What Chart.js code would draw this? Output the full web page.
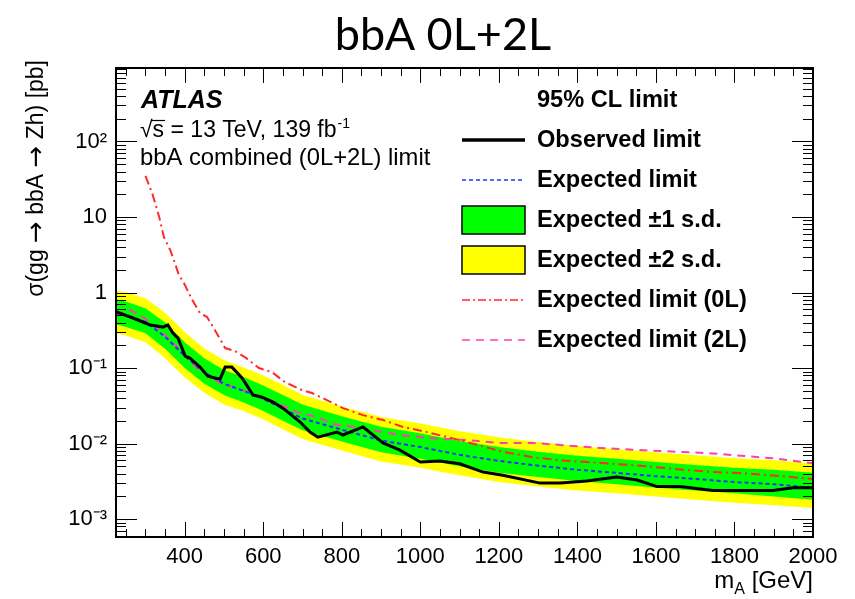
<!DOCTYPE html>
<html>
<head>
<meta charset="utf-8">
<title>bbA 0L+2L</title>
<script src="https://cdn.jsdelivr.net/npm/chart.js@4.4.1/dist/chart.umd.min.js"></script>
<style>
  html, body { margin: 0; padding: 0; background: #fff; }
  canvas { display: block; }
</style>
</head>
<body>
<canvas id="limitChart" width="855" height="599"></canvas>
<script>
// ===== Dados =====
// Limite observado
const massObs = [225, 268, 312, 345, 357, 370, 383, 393, 401, 413, 439, 459, 490, 503, 520, 546, 574, 597, 625, 650, 694, 719, 739, 788, 803, 854, 905, 948, 1000, 1050, 1100, 1160, 1210, 1305, 1356, 1424, 1500, 1552, 1603, 1661, 1745, 1814, 1898, 1949, 2000];
const obsLimit = [0.56, 0.46, 0.372, 0.349, 0.372, 0.291, 0.249, 0.184, 0.144, 0.136, 0.103, 0.078, 0.0714, 0.103, 0.103, 0.0738, 0.0439, 0.0413, 0.0355, 0.0295, 0.0193, 0.0142, 0.0122, 0.0142, 0.0130, 0.0166, 0.0102, 0.0082, 0.0057, 0.0059, 0.0054, 0.0042, 0.0038, 0.0030, 0.0030, 0.0032, 0.0036, 0.0033, 0.0027, 0.0027, 0.0024, 0.0024, 0.0024, 0.0026, 0.0026];

// Limite esperado e bandas de ±1 / ±2 s.d.
const massExp = [225, 250, 300, 350, 400, 450, 500, 550, 600, 650, 700, 800, 900, 1000, 1100, 1200, 1300, 1400, 1500, 1600, 1700, 1800, 1900, 2000];
const expLimit = [0.54, 0.50, 0.41, 0.26, 0.145, 0.088, 0.062, 0.050, 0.039, 0.029, 0.0215, 0.0153, 0.011, 0.0090, 0.0071, 0.0059, 0.0051, 0.0045, 0.0041, 0.0037, 0.0034, 0.0031, 0.0029, 0.0026];
const exp1Up = [0.80, 0.76, 0.62, 0.40, 0.22, 0.135, 0.094, 0.076, 0.059, 0.044, 0.033, 0.023, 0.0167, 0.0137, 0.0108, 0.0090, 0.0078, 0.0069, 0.0063, 0.0057, 0.0052, 0.0048, 0.0045, 0.0041];
const exp1Down = [0.38, 0.35, 0.29, 0.18, 0.10, 0.062, 0.044, 0.035, 0.027, 0.020, 0.015, 0.0107, 0.0077, 0.0063, 0.0050, 0.0041, 0.0036, 0.0032, 0.0029, 0.0026, 0.0024, 0.0022, 0.0020, 0.0018];
const exp2Up = [1.05, 1.02, 0.84, 0.54, 0.30, 0.18, 0.128, 0.102, 0.080, 0.060, 0.044, 0.031, 0.0225, 0.0185, 0.0146, 0.0121, 0.0105, 0.0093, 0.0085, 0.0077, 0.0070, 0.0064, 0.0060, 0.0055];
const exp2Down = [0.29, 0.27, 0.22, 0.135, 0.075, 0.047, 0.033, 0.027, 0.021, 0.0155, 0.0115, 0.0081, 0.0058, 0.0048, 0.0038, 0.0031, 0.0027, 0.0024, 0.0022, 0.0020, 0.0018, 0.00165, 0.00153, 0.0014];

// Limite esperado só do canal 0L
const mass0L = [300, 317, 335, 347, 363, 375, 385, 398, 419, 439, 457, 477, 503, 528, 553, 589, 622, 655, 699, 724, 762, 803, 854, 905, 956, 1017, 1101, 1210, 1287, 1356, 1450, 1559, 1669, 1750, 1840, 1920, 2000];
const exp0L = [35, 20.8, 10.0, 5.4, 3.66, 2.46, 1.71, 1.34, 0.80, 0.535, 0.473, 0.318, 0.184, 0.168, 0.140, 0.100, 0.0885, 0.0653, 0.0511, 0.0467, 0.0377, 0.0295, 0.0238, 0.0205, 0.0166, 0.0142, 0.0111, 0.0078, 0.0066, 0.0060, 0.0056, 0.0051, 0.0045, 0.0042, 0.0040, 0.0037, 0.0034];

// Limite esperado só do canal 2L
const mass2L = [225, 261, 294, 337, 380, 431, 490, 548, 617, 686, 737, 780, 820, 905, 948, 1032, 1119, 1203, 1287, 1356, 1450, 1559, 1730, 1898, 2000];
const exp2L = [0.50, 0.587, 0.473, 0.318, 0.190, 0.100, 0.0633, 0.0511, 0.0377, 0.0261, 0.0224, 0.018, 0.017, 0.0142, 0.0130, 0.0118, 0.0111, 0.0102, 0.0102, 0.0096, 0.0088, 0.0082, 0.0075, 0.0064, 0.0055];

// Eixos
const xTicks = [400, 600, 800, 1000, 1200, 1400, 1600, 1800, 2000];
const yTicks = [1e-3, 1e-2, 1e-1, 1, 10, 100];
const yTickLabels = ['10⁻³', '10⁻²', '10⁻¹', '1', '10', '10²'];

const AXIS_FONT = '"Liberation Sans", Arial, sans-serif';
const ARROW_FONT = '"DejaVu Sans", sans-serif';

const toPoints = (xs, ys) => xs.map((x, i) => ({ x: x, y: ys[i] }));

// ===== Moldura estilo ROOT com ticks para dentro =====
const frameTicks = {
  id: 'frameTicks',
  afterDatasetsDraw(chart) {
    const { ctx, chartArea: a, scales: { x, y } } = chart;
    ctx.save();
    ctx.strokeStyle = '#000';
    ctx.lineWidth = 1;
    ctx.beginPath();
    for (let m = 250; m <= 2000; m += 50) {
      const px = Math.round(x.getPixelForValue(m)) + 0.5;
      const len = m % 200 === 0 ? 15 : 8;
      ctx.moveTo(px, a.bottom); ctx.lineTo(px, a.bottom - len);
      ctx.moveTo(px, a.top); ctx.lineTo(px, a.top + len);
    }
    for (let e = -4; e <= 2; e++) {
      for (let k = 1; k <= 9; k++) {
        const v = k * Math.pow(10, e);
        if (v < y.min || v > y.max) continue;
        const py = Math.round(y.getPixelForValue(v)) + 0.5;
        const len = k === 1 ? 21 : 10;
        ctx.moveTo(a.left, py); ctx.lineTo(a.left + len, py);
        ctx.moveTo(a.right, py); ctx.lineTo(a.right - len, py);
      }
    }
    ctx.stroke();
    ctx.lineWidth = 2;
    ctx.strokeRect(a.left, a.top, a.right - a.left, a.bottom - a.top);
    ctx.restore();
  }
};

// Desenha um texto em pedaços com fontes diferentes (para as setas)
function drawRuns(ctx, runs, x, y) {
  let cx = x;
  runs.forEach(([txt, font]) => {
    ctx.font = font;
    ctx.fillText(txt, cx, y);
    cx += ctx.measureText(txt).width;
  });
  return cx - x;
}

// ===== Textos: título, títulos dos eixos, rótulo ATLAS e legenda =====
const annotations = {
  id: 'annotations',
  afterDraw(chart) {
    const { ctx, chartArea: a } = chart;
    ctx.save();
    ctx.fillStyle = '#000';

    // título principal
    ctx.font = '45px Lato, "Noto Sans", sans-serif';
    ctx.textAlign = 'center';
    ctx.textBaseline = 'alphabetic';
    ctx.fillText('bbA 0L+2L', 443, 50);

    // título do eixo y
    const f = '23px ' + AXIS_FONT;
    const fa = '26px ' + ARROW_FONT;
    const yRuns = [['σ(gg ', f], ['→', fa], [' bbA ', f], ['→', fa], [' Zh) [pb]', f]];
    ctx.save();
    ctx.textAlign = 'left';
    ctx.textBaseline = 'middle';
    let wTot = 0;
    yRuns.forEach(([txt, font]) => { ctx.font = font; wTot += ctx.measureText(txt).width; });
    ctx.translate(37, 60);
    ctx.rotate(-Math.PI / 2);
    drawRuns(ctx, yRuns, -wTot, 0);
    ctx.restore();

    // título do eixo x: m_A [GeV]
    ctx.textBaseline = 'alphabetic';
    ctx.textAlign = 'left';
    ctx.font = '24px ' + AXIS_FONT;
    const wM = ctx.measureText('m').width;
    const wRest = ctx.measureText(' [GeV]').width;
    ctx.font = '16px ' + AXIS_FONT;
    const wA = ctx.measureText('A').width;
    const tx = a.right - (wM + wA + wRest);
    ctx.font = '24px ' + AXIS_FONT;
    ctx.fillText('m', tx, 588);
    ctx.font = '16px ' + AXIS_FONT;
    ctx.fillText('A', tx + wM, 594);
    ctx.font = '24px ' + AXIS_FONT;
    ctx.fillText(' [GeV]', tx + wM + wA, 588);

    // ATLAS
    ctx.font = 'italic bold 25px ' + AXIS_FONT;
    ctx.fillText('ATLAS', 141, 108);
    ctx.font = '23px ' + AXIS_FONT;
    ctx.fillText('√', 140, 137);
    const wRoot = ctx.measureText('√').width;
    const line2 = 's = 13 TeV, 139 fb';
    ctx.fillText(line2, 140 + wRoot, 137);
    const wS = ctx.measureText('s').width;
    const wLine2 = ctx.measureText(line2).width;
    ctx.lineWidth = 1.2;
    ctx.beginPath();
    ctx.moveTo(140 + wRoot - 1, 120.5);
    ctx.lineTo(140 + wRoot + wS + 1, 120.5);
    ctx.stroke();
    ctx.font = '14px ' + AXIS_FONT;
    ctx.fillText('-1', 140 + wRoot + wLine2 + 1, 128);
    ctx.font = '23.8px ' + AXIS_FONT;
    ctx.fillText('bbA combined (0L+2L) limit', 140, 165);

    // legenda
    const lx0 = 462, lx1 = 525, tx0 = 537;
    ctx.font = 'bold 23.6px ' + AXIS_FONT;
    ctx.textBaseline = 'middle';
    ctx.fillText('95% CL limit', tx0, 100);

    const legendLine = (yy, color, width, dash) => {
      ctx.save();
      ctx.strokeStyle = color;
      ctx.lineWidth = width;
      ctx.setLineDash(dash);
      ctx.beginPath();
      ctx.moveTo(lx0, yy); ctx.lineTo(lx1, yy);
      ctx.stroke();
      ctx.restore();
    };
    const legendBox = (yy, color) => {
      ctx.save();
      ctx.fillStyle = color;
      ctx.fillRect(lx0, yy - 14, lx1 - lx0, 28);
      ctx.strokeStyle = '#000';
      ctx.lineWidth = 1.5;
      ctx.strokeRect(lx0, yy - 14, lx1 - lx0, 28);
      ctx.restore();
    };

    legendLine(140, '#000', 3.5, []);
    ctx.fillText('Observed limit', tx0, 140);
    legendLine(180, '#2233ff', 1.5, [4, 3]);
    ctx.fillText('Expected limit', tx0, 180);
    legendBox(220, '#00ff00');
    ctx.fillText('Expected ±1 s.d.', tx0, 220);
    legendBox(260, '#ffff00');
    ctx.fillText('Expected ±2 s.d.', tx0, 260);
    legendLine(300, '#ff2a2a', 1.5, [8, 3, 2, 3]);
    ctx.fillText('Expected limit (0L)', tx0, 300);
    legendLine(340, '#ff3fae', 1.5, [8, 6]);
    ctx.fillText('Expected limit (2L)', tx0, 340);

    ctx.restore();
  }
};

new Chart(document.getElementById('limitChart'), {
  type: 'line',
  data: {
    datasets: [
      {
        label: 'Observed limit',
        data: toPoints(massObs, obsLimit),
        borderColor: '#000000',
        borderWidth: 3,
        order: 0
      },
      {
        label: 'Expected limit',
        data: toPoints(massExp, expLimit),
        borderColor: '#2233ff',
        borderWidth: 2,
        borderDash: [4, 3],
        order: 1
      },
      {
        label: 'Expected limit (0L)',
        data: toPoints(mass0L, exp0L),
        borderColor: '#ff2a2a',
        borderWidth: 2,
        borderDash: [9, 4, 2, 4],
        order: 2
      },
      {
        label: 'Expected limit (2L)',
        data: toPoints(mass2L, exp2L),
        borderColor: '#ff3fae',
        borderWidth: 2,
        borderDash: [8, 6],
        order: 3
      },
      {
        label: 'Expected +1 s.d.',
        data: toPoints(massExp, exp1Up),
        borderWidth: 0,
        borderColor: 'rgba(0,0,0,0)',
        backgroundColor: '#00ff00',
        fill: '+1',
        order: 4
      },
      {
        label: 'Expected -1 s.d.',
        data: toPoints(massExp, exp1Down),
        borderWidth: 0,
        borderColor: 'rgba(0,0,0,0)',
        fill: false,
        order: 5
      },
      {
        label: 'Expected +2 s.d.',
        data: toPoints(massExp, exp2Up),
        borderWidth: 0,
        borderColor: 'rgba(0,0,0,0)',
        backgroundColor: '#ffff00',
        fill: '+1',
        order: 6
      },
      {
        label: 'Expected -2 s.d.',
        data: toPoints(massExp, exp2Down),
        borderWidth: 0,
        borderColor: 'rgba(0,0,0,0)',
        fill: false,
        order: 7
      }
    ]
  },
  options: {
    responsive: false,
    animation: false,
    events: [],
    layout: { padding: { left: 0, right: 42, top: 68, bottom: 0 } },
    elements: {
      point: { radius: 0 },
      line: { tension: 0 }
    },
    plugins: {
      legend: { display: false },
      tooltip: { enabled: false },
      title: { display: false }
    },
    scales: {
      x: {
        type: 'linear',
        min: 225,
        max: 2000,
        grid: { display: false, drawTicks: false },
        border: { display: false },
        afterBuildTicks(scale) {
          scale.ticks = xTicks.map(v => ({ value: v }));
        },
        afterFit(scale) {
          scale.height = 62;
        },
        ticks: {
          color: '#000',
          padding: 7,
          maxRotation: 0,
          autoSkip: false,
          font: { family: AXIS_FONT, size: 22 },
          callback: v => String(v)
        }
      },
      y: {
        type: 'logarithmic',
        min: 5.8e-4,
        max: 940,
        grid: { display: false, drawTicks: false },
        border: { display: false },
        afterBuildTicks(scale) {
          scale.ticks = yTicks.map(v => ({ value: v }));
        },
        afterFit(scale) {
          scale.width = 116;
        },
        ticks: {
          color: '#000',
          padding: 9,
          autoSkip: false,
          font: { family: AXIS_FONT, size: 22 },
          callback: v => yTickLabels[yTicks.findIndex(t => Math.abs(t - v) / t < 1e-6)]
        }
      }
    }
  },
  plugins: [frameTicks, annotations]
});
</script>
</body>
</html>
